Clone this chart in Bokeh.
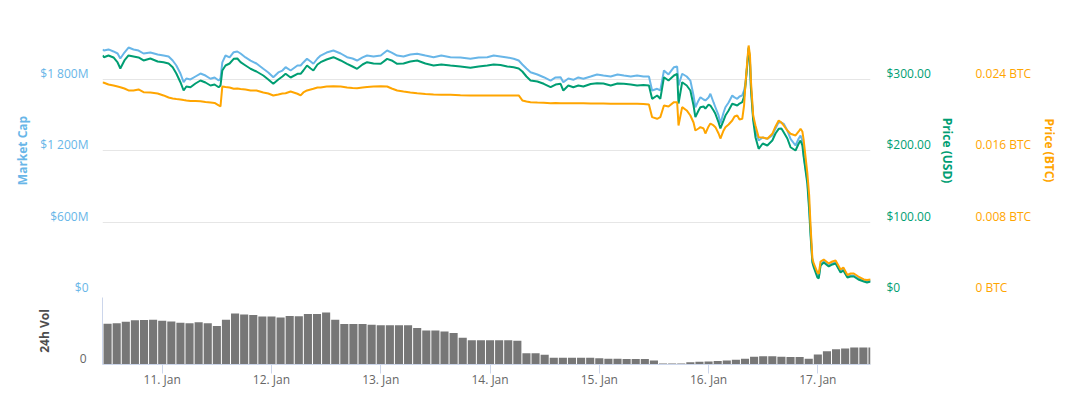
from datetime import datetime, timedelta

from bokeh.plotting import figure
from bokeh.models import Range1d, LinearAxis, FixedTicker, DatetimeTickFormatter, Grid
from bokeh.layouts import column
from bokeh.embed import file_html
from bokeh.resources import INLINE

FONT = "Open Sans"

# ---- data (hours since 10 Jan 2018 00:00) ----
hours = [10.9, 11.2, 12.2, 13.3, 14.2, 14.8, 15.7, 16.6, 17.7, 18.8,
         19.9, 21.4, 23.0, 24.3, 25.4, 26.3, 27.1, 28.0, 28.7, 29.3,
         30.2, 31.3, 32.4, 33.5, 34.6, 35.5, 36.4, 36.8, 37.2, 37.9,
         38.8, 39.7, 40.5, 41.2, 42.3, 43.4, 44.7, 46.2, 47.3, 48.4,
         49.5, 50.4, 51.1, 52.2, 53.7, 54.4, 55.0, 55.8, 56.6, 57.2,
         58.1, 58.8, 60.1, 61.6, 63.2, 64.6, 65.8, 66.8, 68.0, 69.0,
         70.4, 72.0, 73.4, 74.4, 75.6, 77.0, 78.5, 80.0, 81.8, 83.6,
         85.3, 87.3, 89.5, 91.7, 93.5, 95.4, 96.8, 98.3, 99.8, 101.2,
         102.3, 103.1, 104.0, 104.9, 106.4, 107.8, 109.3, 110.4, 111.5, 112.1,
         113.2, 114.3, 115.4, 116.5, 118.1, 119.5, 120.9, 122.5, 124.0, 125.4,
         126.9, 128.3, 129.7, 130.9, 131.6, 132.7, 133.4, 134.2, 135.2, 136.4,
         137.1, 137.4, 138.2, 139.2, 140.0, 140.7, 141.1, 141.8, 142.2, 142.9,
         143.3, 144.0, 144.4, 145.1, 145.5, 146.2, 146.6, 147.3, 147.7, 148.4,
         149.2, 149.7, 150.3, 150.8, 151.4, 151.8, 152.1, 152.6, 152.8, 153.1,
         153.3, 153.8, 154.3, 155.0, 155.9, 156.9, 158.0, 158.7, 159.4, 160.0,
         160.5, 161.3, 162.0, 163.1, 163.8, 164.2, 164.6, 164.9, 165.7, 166.1,
         166.4, 166.8, 167.1, 167.9, 168.2, 168.6, 169.3, 170.4, 171.2, 171.9,
         173.0, 173.6, 174.5, 175.2, 175.9, 176.9, 178.1, 178.8, 179.6]

market_cap_musd = [2048, 2039, 2048, 2031, 2014, 1972, 2022, 2064, 2048, 2039,
                   2014, 2022, 2006, 1997, 1989, 1955, 1913, 1846, 1773, 1804,
                   1796, 1821, 1846, 1829, 1802, 1813, 1787, 1804, 1939, 1997,
                   1981, 2025, 2031, 2014, 1981, 1955, 1930, 1886, 1855, 1815,
                   1855, 1871, 1899, 1871, 1913, 1913, 1939, 1970, 1947, 1928,
                   1972, 1997, 2022, 2039, 2014, 1983, 1972, 1955, 1981, 1997,
                   1989, 1997, 2039, 2022, 1997, 1989, 2006, 2012, 1997, 1983,
                   1997, 1983, 1981, 1970, 1981, 1983, 1997, 1989, 1981, 1970,
                   1955, 1922, 1888, 1857, 1838, 1815, 1787, 1813, 1815, 1773,
                   1804, 1793, 1813, 1802, 1821, 1838, 1829, 1821, 1838, 1829,
                   1821, 1829, 1821, 1821, 1704, 1718, 1704, 1871, 1838, 1899,
                   1905, 1746, 1844, 1821, 1787, 1662, 1563, 1620, 1647, 1628,
                   1620, 1645, 1676, 1603, 1563, 1494, 1427, 1519, 1563, 1603,
                   1662, 1645, 1634, 1653, 1662, 1704, 1760, 1955, 2056, 1955,
                   1746, 1480, 1368, 1284, 1309, 1298, 1326, 1385, 1438, 1435,
                   1424, 1368, 1298, 1242, 1301, 1326, 1284, 1158, 948, 738,
                   529, 277, 235, 151, 134, 243, 269, 235, 252, 260,
                   185, 210, 143, 151, 151, 126, 109, 101, 109]

price_usd = [332.9, 330.5, 332.9, 330.1, 323.1, 314.7, 325.9, 332.9, 331.5, 330.1,
             325.9, 328.7, 324.5, 323.5, 321.7, 316.5, 307.7, 295.5, 283.9, 289.5,
             288.5, 293.7, 297.9, 295.1, 290.9, 292.3, 288.5, 290.9, 311.9, 318.9,
             321.7, 328.2, 328.7, 323.5, 318.9, 314.3, 310.5, 304.9, 299.3, 293.3,
             299.3, 303.5, 307.3, 302.1, 307.3, 307.3, 311.9, 318.9, 314.7, 311.9,
             320.3, 323.5, 327.3, 330.5, 325.9, 321.3, 317.5, 314.3, 320.3, 323.5,
             321.7, 321.3, 328.2, 325.9, 321.3, 321.7, 324.5, 325.9, 321.7, 318.9,
             320.3, 318.9, 317.5, 315.7, 317.5, 318.9, 320.3, 319.6, 317.5, 316.5,
             314.7, 310.5, 303.5, 297.9, 296.5, 293.3, 288.5, 292.3, 293.3, 283.9,
             290.9, 288.5, 290.9, 289.5, 293.0, 294.1, 293.7, 290.9, 293.7, 293.3,
             292.3, 290.9, 291.6, 290.9, 272.3, 276.9, 272.3, 302.5, 297.9, 304.9,
             307.3, 265.7, 295.5, 290.9, 283.9, 262.9, 246.6, 255.9, 260.6, 261.5,
             258.7, 264.3, 262.9, 255.9, 251.3, 239.2, 230.8, 242.0, 248.9, 255.9,
             265.3, 264.3, 262.9, 265.7, 267.6, 275.5, 290.9, 328.7, 344.1, 323.1,
             286.7, 242.0, 218.6, 202.4, 209.8, 207.0, 214.0, 223.8, 230.3, 230.8,
             225.6, 216.8, 204.6, 200.0, 209.8, 214.0, 207.0, 190.6, 153.4, 116.1,
             81.1, 43.4, 36.8, 22.4, 21.0, 39.2, 43.4, 37.8, 40.6, 42.0,
             29.4, 32.2, 22.4, 23.8, 23.8, 19.6, 16.8, 15.4, 16.8]

price_btc = [0.02361, 0.02358, 0.02339, 0.02328, 0.02316, 0.02308, 0.02294, 0.02272, 0.02272, 0.02283,
             0.02253, 0.02249, 0.02238, 0.02216, 0.02193, 0.02182, 0.02176, 0.02171, 0.02165, 0.02160,
             0.02154, 0.02154, 0.02152, 0.02143, 0.02137, 0.02132, 0.02104, 0.02093, 0.02316, 0.02311,
             0.02305, 0.02291, 0.02294, 0.02288, 0.02283, 0.02272, 0.02272, 0.02249, 0.02238, 0.02216,
             0.02227, 0.02238, 0.02241, 0.02260, 0.02235, 0.02216, 0.02249, 0.02272, 0.02283, 0.02291,
             0.02305, 0.02305, 0.02316, 0.02320, 0.02316, 0.02305, 0.02300, 0.02297, 0.02305, 0.02311,
             0.02316, 0.02320, 0.02316, 0.02294, 0.02272, 0.02260, 0.02249, 0.02241, 0.02232, 0.02227,
             0.02223, 0.02223, 0.02218, 0.02216, 0.02216, 0.02216, 0.02216, 0.02216, 0.02216, 0.02216,
             0.02216, 0.02160, 0.02148, 0.02141, 0.02137, 0.02134, 0.02129, 0.02132, 0.02129, 0.02129,
             0.02129, 0.02129, 0.02129, 0.02129, 0.02126, 0.02126, 0.02126, 0.02123, 0.02123, 0.02123,
             0.02123, 0.02123, 0.02121, 0.02115, 0.01973, 0.01955, 0.01973, 0.02104, 0.02093, 0.02141,
             0.02141, 0.01880, 0.02085, 0.02048, 0.01992, 0.01913, 0.01824, 0.01846, 0.01861, 0.01846,
             0.01790, 0.01869, 0.01902, 0.01880, 0.01861, 0.01790, 0.01734, 0.01824, 0.01861, 0.01891,
             0.01936, 0.01981, 0.01992, 0.01947, 0.01955, 0.02104, 0.02347, 0.02663, 0.02775, 0.02663,
             0.02383, 0.01992, 0.01880, 0.01749, 0.01746, 0.01731, 0.01787, 0.01869, 0.01936, 0.01913,
             0.01880, 0.01824, 0.01787, 0.01768, 0.01813, 0.01843, 0.01813, 0.01712, 0.01343, 0.01097,
             0.00761, 0.00392, 0.00336, 0.00235, 0.00220, 0.00358, 0.00380, 0.00336, 0.00358, 0.00369,
             0.00269, 0.00291, 0.00207, 0.00224, 0.00224, 0.00190, 0.00157, 0.00151, 0.00157]

# 24h volume, 2-hour columns starting 10 Jan 11:00 (millions USD)
volume_musd = [21.0, 21.2, 22.0, 22.8, 22.9, 23.0, 22.5, 22.2, 21.5, 21.2,
               21.7, 21.2, 19.8, 23.0, 26.3, 25.8, 25.5, 24.7, 24.7, 24.2,
               25.0, 24.8, 26.0, 26.0, 26.8, 23.0, 20.8, 20.8, 20.8, 20.5,
               20.2, 20.2, 20.2, 20.2, 18.8, 17.5, 17.5, 17.0, 16.2, 13.8,
               12.5, 12.5, 12.5, 12.5, 12.5, 12.2, 5.8, 5.8, 5.0, 3.5,
               3.5, 3.5, 3.5, 3.5, 3.2, 3.0, 3.0, 2.8, 2.8, 2.8,
               2.0, 0.5, 0.5, 0.5, 1.2, 1.4, 1.5, 1.8, 2.1, 2.5,
               3.0, 4.0, 4.2, 4.2, 4.0, 3.8, 3.8, 3.0, 5.2, 6.8,
               7.8, 8.3, 8.8, 8.8, 8.8]

mc_ticks = [0, 600, 1200, 1800, 2400]
mc_labels = ["$0", "$600M", "$1 200M", "$1 800M", ""]
usd_ticks = [0, 100, 200, 300]
usd_labels = ["$0", "$100.00", "$200.00", "$300.00"]
btc_ticks = [0.0, 0.008, 0.016, 0.024]
btc_labels = ["0 BTC", "0.008 BTC", "0.016 BTC", "0.024 BTC"]
day_ticks = [datetime(2018, 1, d) for d in range(11, 18)]

# ---- styling ----
C_MC = "#68b6e8"
C_USD = "#009e73"
C_BTC = "#ffa500"
C_GRID = "#e6e6e6"
C_AXIS = "#ccd6eb"
FS = "12px"

base = datetime(2018, 1, 10)
n = min(len(hours), len(market_cap_musd), len(price_usd), len(price_btc))
t = [base + timedelta(hours=h) for h in hours[:n]]
vol_t = [base + timedelta(hours=12 + 2 * k) for k in range(len(volume_musd))]

x_range = Range1d(datetime(2018, 1, 10, 10, 53), datetime(2018, 1, 17, 11, 34))

W = 1069
LEFT = 102
FRAME_W = 768
RIGHT = W - LEFT - FRAME_W

# main pane: frame 286 px tall; labels sit ~6 px above their grid lines
MAIN_TOP = 7
MAIN_FRAME_H = 286
mc_top = 2400.0
usd_top = 400.0
btc_top = 0.032
px = 6.0
mc_off = px * mc_top / MAIN_FRAME_H
usd_off = px * usd_top / MAIN_FRAME_H
btc_off = px * btc_top / MAIN_FRAME_H

main = figure(width=W, height=MAIN_TOP + MAIN_FRAME_H + 2, x_range=x_range,
              y_range=Range1d(0, mc_top), x_axis_type="datetime",
              x_axis_location=None, y_axis_location=None,
              output_backend="svg", toolbar_location=None,
              min_border_left=LEFT, min_border_right=RIGHT,
              min_border_top=MAIN_TOP, min_border_bottom=2)
main.outline_line_color = None
main.xgrid.visible = False
main.ygrid.visible = False
main.extra_y_ranges = {"usd": Range1d(0, usd_top), "btc": Range1d(0, btc_top)}

main.add_layout(Grid(dimension=1, ticker=FixedTicker(ticks=mc_ticks),
                     grid_line_color=C_GRID, grid_line_width=1))


def style_y(ax, color, label_standoff, title_standoff):
    ax.axis_line_color = None
    ax.major_tick_line_color = None
    ax.minor_tick_line_color = None
    ax.major_tick_out = 0
    ax.major_tick_in = 0
    ax.major_label_text_color = color
    ax.major_label_text_font = FONT
    ax.major_label_text_font_size = FS
    ax.major_label_standoff = label_standoff
    ax.axis_label_text_color = color
    ax.axis_label_text_font = FONT
    ax.axis_label_text_font_size = FS
    ax.axis_label_text_font_style = "bold"
    ax.axis_label_standoff = title_standoff


mc_tk = [v + mc_off for v in mc_ticks[:-1]]
ax_mc = LinearAxis(ticker=FixedTicker(ticks=mc_tk),
                   major_label_overrides={k: l for k, l in zip(mc_tk, mc_labels)},
                   axis_label="Market Cap")
style_y(ax_mc, C_MC, 14, 6)
main.add_layout(ax_mc, "left")

usd_tk = [v + usd_off for v in usd_ticks]
ax_usd = LinearAxis(y_range_name="usd", ticker=FixedTicker(ticks=usd_tk),
                    major_label_overrides={k: l for k, l in zip(usd_tk, usd_labels)},
                    axis_label="Price (USD)")
style_y(ax_usd, C_USD, 16, 5)
main.add_layout(ax_usd, "right")

btc_tk = [v + btc_off for v in btc_ticks]
ax_btc = LinearAxis(y_range_name="btc", ticker=FixedTicker(ticks=btc_tk),
                    major_label_overrides={k: l for k, l in zip(btc_tk, btc_labels)},
                    axis_label="Price (BTC)")
style_y(ax_btc, C_BTC, 17, 7)
main.add_layout(ax_btc, "right")

main.line(t, market_cap_musd[:n], line_color=C_MC, line_width=2)
main.line(t, price_usd[:n], y_range_name="usd", line_color=C_USD, line_width=2)
main.line(t, price_btc[:n], y_range_name="btc", line_color=C_BTC, line_width=2)

# volume pane: frame 69 px tall
VOL_FRAME_H = 69
VOL_TOP = 34.5
vol = figure(width=W, height=2 + VOL_FRAME_H + 24, x_range=x_range,
             y_range=Range1d(0, VOL_TOP),
             x_axis_type="datetime", y_axis_location=None,
             output_backend="svg", toolbar_location=None,
             min_border_left=LEFT, min_border_right=RIGHT,
             min_border_top=2, min_border_bottom=24)
vol.outline_line_color = None
vol.xgrid.visible = False
vol.ygrid.visible = False

xa = vol.xaxis[0]
xa.ticker = FixedTicker(ticks=[(d - datetime(1970, 1, 1)).total_seconds() * 1000 for d in day_ticks])
fmt = "%d. %b"
xa.formatter = DatetimeTickFormatter(milliseconds=fmt, seconds=fmt, minsec=fmt, minutes=fmt,
                                     hourmin=fmt, hours=fmt, days=fmt, months=fmt, years=fmt)
xa.axis_line_color = C_AXIS
xa.major_tick_line_color = C_AXIS
xa.minor_tick_line_color = None
xa.major_tick_out = 9
xa.major_tick_in = 0
xa.major_label_standoff = -3
xa.major_label_text_color = "#666666"
xa.major_label_text_font = FONT
xa.major_label_text_font_size = FS

vol_off = px * VOL_TOP / VOL_FRAME_H
ax_vol = LinearAxis(ticker=FixedTicker(ticks=[vol_off]),
                    major_label_overrides={vol_off: "0"},
                    axis_label="24h Vol")
style_y(ax_vol, "#666666", 16, 24)
ax_vol.axis_line_color = C_AXIS
ax_vol.axis_label_text_color = "#4d4d4d"
vol.add_layout(ax_vol, "left")

vol.vbar(x=vol_t, top=volume_musd, width=2 * 3600 * 1000 * 0.89,
         fill_color="#777777", line_color=None)

layout = column(main, vol, spacing=0)
open("out.html", "w").write(file_html(layout, INLINE))
